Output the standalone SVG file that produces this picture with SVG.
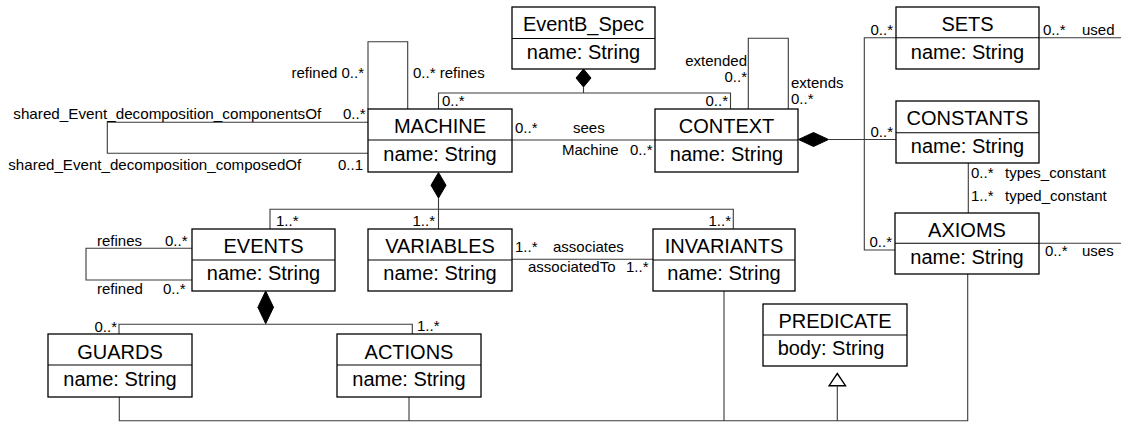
<svg xmlns="http://www.w3.org/2000/svg" width="1121" height="422" viewBox="0 0 1121 422">
<style>
.box{fill:#fff;stroke:#000;stroke-width:1.3}
.div{stroke:#000;stroke-width:1.1}
.t{font-family:"Liberation Sans",Arial,sans-serif;font-size:20px;fill:#000;text-anchor:middle}
.c{fill:none;stroke:#3a3a3a;stroke-width:1.1}
.dia{fill:#000;stroke:#000;stroke-width:1}
.tri{fill:#fff;stroke:#000;stroke-width:1.4}
.l{font-family:"Liberation Sans",Arial,sans-serif;font-size:15px;fill:#000}
.e{text-anchor:end}
</style>
<rect width="1121" height="422" fill="#fff"/>

<g id="connectors">
  <!-- EventB_Spec composition -->
  <polygon class="dia" points="583.5,69 591,78 583.5,87 576,78"/>
  <path class="c" d="M583.5,87 V93 M438.5,109 V93 H730.5 V109"/>
  <text class="l" x="442" y="106">0..*</text>
  <text class="l e" x="728" y="106">0..*</text>

  <!-- MACHINE self loop -->
  <path class="c" d="M368,109 V41.7 H407.7 V109"/>
  <text class="l e" x="364" y="78">refined 0..*</text>
  <text class="l" x="413" y="78">0..* refines</text>

  <!-- shared event decomposition -->
  <path class="c" d="M368,122.3 H107.3 V153.3 H368"/>
  <text class="l" x="13.3" y="119" textLength="308" lengthAdjust="spacingAndGlyphs">shared_Event_decomposition_componentsOf</text>
  <text class="l" x="343" y="119">0..*</text>
  <text class="l" x="8.3" y="170" textLength="293" lengthAdjust="spacingAndGlyphs">shared_Event_decomposition_composedOf</text>
  <text class="l" x="338" y="170">0..1</text>

  <!-- sees -->
  <path class="c" d="M512,140 H655"/>
  <text class="l" x="515" y="133">0..*</text>
  <text class="l" x="573" y="133">sees</text>
  <text class="l" x="562" y="155">Machine</text>
  <text class="l" x="630" y="155">0..*</text>

  <!-- CONTEXT self loop -->
  <path class="c" d="M748.3,109 V38.3 H788.3 V109"/>
  <text class="l e" x="747" y="66">extended</text>
  <text class="l e" x="747" y="82">0..*</text>
  <text class="l" x="791" y="88">extends</text>
  <text class="l" x="791" y="104">0..*</text>

  <!-- CONTEXT - CONSTANTS composition -->
  <polygon class="dia" points="798.5,139.5 813.5,132.5 828.5,139.5 813.5,146.5"/>
  <path class="c" d="M828.5,139.5 H896"/>
  <text class="l e" x="893" y="137">0..*</text>

  <!-- CONTEXT to SETS / AXIOMS -->
  <path class="c" d="M896,37.7 H864.3 V250 H895"/>
  <text class="l e" x="893" y="35">0..*</text>
  <text class="l e" x="892" y="247">0..*</text>

  <!-- SETS used -->
  <path class="c" d="M1039,37.7 H1121"/>
  <text class="l" x="1043" y="35">0..*</text>
  <text class="l" x="1082" y="35">used</text>

  <!-- CONSTANTS - AXIOMS -->
  <path class="c" d="M968.3,163 V213"/>
  <text class="l" x="971" y="178">0..*</text>
  <text class="l" x="1005" y="178">types_constant</text>
  <text class="l" x="971" y="201">1..*</text>
  <text class="l" x="1005" y="201">typed_constant</text>

  <!-- AXIOMS uses -->
  <path class="c" d="M1039,243.3 H1121"/>
  <text class="l" x="1045" y="256">0..*</text>
  <text class="l" x="1082" y="256">uses</text>

  <!-- MACHINE composition -->
  <polygon class="dia" points="438.5,172.5 446,185.3 438.5,198 431,185.3"/>
  <path class="c" d="M438.5,198 V209.3 M270,229 V209.3 H733.3 V229 M438.5,209.3 V229"/>
  <text class="l" x="276" y="226">1..*</text>
  <text class="l e" x="435" y="226">1..*</text>
  <text class="l e" x="731" y="226">1..*</text>

  <!-- EVENTS self loop -->
  <path class="c" d="M192,248.3 H86 V280 H192"/>
  <text class="l" x="97" y="246">refines</text>
  <text class="l" x="165" y="246">0..*</text>
  <text class="l" x="97" y="294">refined</text>
  <text class="l" x="163" y="294">0..*</text>

  <!-- associates -->
  <path class="c" d="M512,259.3 H653"/>
  <text class="l" x="515" y="252">1..*</text>
  <text class="l" x="553" y="252">associates</text>
  <text class="l" x="528" y="272">associatedTo</text>
  <text class="l" x="626" y="272">1..*</text>

  <!-- EVENTS composition -->
  <polygon class="dia" points="265.7,291 273.5,307.3 265.7,323.7 257.9,307.3"/>
  <path class="c" d="M119,334 V324.3 H412.3 V334"/>
  <text class="l e" x="117" y="332">0..*</text>
  <text class="l" x="417" y="331">1..*</text>

  <!-- Generalization to PREDICATE -->
  <polygon class="tri" points="837.3,373.5 845.5,385.7 829.1,385.7"/>
  <path class="c" d="M837.3,385.7 V420.7 M119.3,397 V420.7 H967.7 V274 M409,397 V420.7 M724,291 V420.7"/>
</g>

<g id="EventB_Spec">
  <rect class="box" x="512" y="7" width="143" height="62"/>
  <line class="div" x1="512" y1="38.5" x2="655" y2="38.5"/>
  <text class="t" x="583.5" y="31">EventB_Spec</text>
  <text class="t" x="583.5" y="59">name: String</text>
</g>

<g id="MACHINE">
  <rect class="box" x="368" y="109" width="144" height="63"/>
  <line class="div" x1="368" y1="140" x2="512" y2="140"/>
  <text class="t" x="440" y="133">MACHINE</text>
  <text class="t" x="440" y="161">name: String</text>
</g>

<g id="CONTEXT">
  <rect class="box" x="655" y="109" width="143" height="63"/>
  <line class="div" x1="655" y1="140" x2="798" y2="140"/>
  <text class="t" x="726.5" y="133">CONTEXT</text>
  <text class="t" x="726.5" y="161">name: String</text>
</g>

<g id="SETS">
  <rect class="box" x="896" y="7" width="143" height="62"/>
  <line class="div" x1="896" y1="37.7" x2="1039" y2="37.7"/>
  <text class="t" x="967.5" y="31">SETS</text>
  <text class="t" x="967.5" y="59">name: String</text>
</g>

<g id="CONSTANTS">
  <rect class="box" x="896" y="101" width="143" height="62"/>
  <line class="div" x1="896" y1="132.7" x2="1039" y2="132.7"/>
  <text class="t" x="967.5" y="125">CONSTANTS</text>
  <text class="t" x="967.5" y="153">name: String</text>
</g>

<g id="AXIOMS">
  <rect class="box" x="895" y="213" width="144" height="61"/>
  <line class="div" x1="895" y1="243.3" x2="1039" y2="243.3"/>
  <text class="t" x="967" y="236.5">AXIOMS</text>
  <text class="t" x="967" y="263.5">name: String</text>
</g>

<g id="EVENTS">
  <rect class="box" x="192" y="229" width="143" height="62"/>
  <line class="div" x1="192" y1="260" x2="335" y2="260"/>
  <text class="t" x="263.5" y="253">EVENTS</text>
  <text class="t" x="263.5" y="280">name: String</text>
</g>

<g id="VARIABLES">
  <rect class="box" x="368" y="229" width="144" height="62"/>
  <line class="div" x1="368" y1="260" x2="512" y2="260"/>
  <text class="t" x="440" y="253">VARIABLES</text>
  <text class="t" x="440" y="280">name: String</text>
</g>

<g id="INVARIANTS">
  <rect class="box" x="653" y="229" width="142" height="62"/>
  <line class="div" x1="653" y1="260" x2="795" y2="260"/>
  <text class="t" x="724" y="253">INVARIANTS</text>
  <text class="t" x="724" y="280">name: String</text>
</g>

<g id="GUARDS">
  <rect class="box" x="48" y="334" width="144" height="63"/>
  <line class="div" x1="48" y1="365" x2="192" y2="365"/>
  <text class="t" x="120" y="359">GUARDS</text>
  <text class="t" x="120" y="386">name: String</text>
</g>

<g id="ACTIONS">
  <rect class="box" x="337" y="334" width="144" height="63"/>
  <line class="div" x1="337" y1="365" x2="481" y2="365"/>
  <text class="t" x="409" y="359">ACTIONS</text>
  <text class="t" x="409" y="386">name: String</text>
</g>

<g id="PREDICATE">
  <rect class="box" x="763" y="304" width="144" height="62"/>
  <line class="div" x1="763" y1="335" x2="907" y2="335"/>
  <text class="t" x="835" y="328">PREDICATE</text>
  <text class="t" x="831" y="355">body: String</text>
</g>
</svg>
